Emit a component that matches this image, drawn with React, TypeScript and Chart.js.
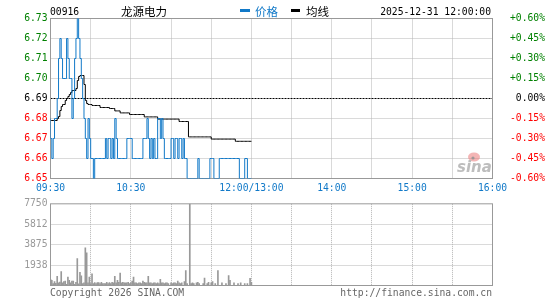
import React, { useEffect, useRef } from "react";
import { Chart, registerables } from "chart.js";

Chart.register(...registerables);

// ---------------- data ----------------
const stockCode = "00916";
const stockName = "龙源电力";
const legendPrice = "价格";
const legendAvg = "均线";
const dateTime = "2025-12-31 12:00:00";
const copyrightText = "Copyright 2026 SINA.COM";
const urlText = "http://finance.sina.com.cn";
const watermarkText = "sina";

const prevClose = 6.69;
const totalMinutes = 330;

const timeLabelMinutes = [0, 60, 150, 210, 270, 330];
const timeLabels = ["09:30", "10:30", "12:00/13:00", "14:00", "15:00", "16:00"];
const gridMinutes = [30, 60, 90, 120, 150, 180, 210, 240, 270, 300];

const priceTicks = [6.65, 6.66, 6.67, 6.68, 6.69, 6.70, 6.71, 6.72, 6.73];
const priceTickLabels = ["6.65", "6.66", "6.67", "6.68", "6.69", "6.70", "6.71", "6.72", "6.73"];
const pctTicks = [-0.6, -0.45, -0.3, -0.15, 0, 0.15, 0.3, 0.45, 0.6];
const pctTickLabels = ["-0.60%", "-0.45%", "-0.30%", "-0.15%", "0.00%", "+0.15%", "+0.30%", "+0.45%", "+0.60%"];

const volTicks = [0, 1937.5, 3875, 5812.5, 7750];
const volTickLabels = ["", "1938", "3875", "5812", "7750"];

// one value per minute, 09:30 .. 12:00
const prices = [
  6.68, 6.67, 6.66, 6.67, 6.68, 6.68, 6.69, 6.71, 6.72, 6.71,
  6.70, 6.70, 6.70, 6.72, 6.71, 6.70, 6.70, 6.68, 6.69, 6.71,
  6.72, 6.73, 6.72, 6.71, 6.70, 6.69, 6.68, 6.67, 6.66, 6.68,
  6.67, 6.66, 6.66, 6.65, 6.66, 6.66, 6.66, 6.66, 6.66, 6.66,
  6.66, 6.66, 6.67, 6.66, 6.67, 6.67, 6.66, 6.67, 6.66, 6.68,
  6.67, 6.66, 6.66, 6.66, 6.66, 6.66, 6.66, 6.66, 6.67, 6.67,
  6.67, 6.67, 6.66, 6.66, 6.66, 6.66, 6.66, 6.66, 6.66, 6.66,
  6.67, 6.67, 6.67, 6.68, 6.67, 6.66, 6.67, 6.66, 6.67, 6.66,
  6.66, 6.68, 6.68, 6.67, 6.68, 6.67, 6.66, 6.66, 6.66, 6.66,
  6.66, 6.67, 6.67, 6.66, 6.67, 6.67, 6.66, 6.67, 6.67, 6.66,
  6.67, 6.66, 6.66, 6.65, 6.65, 6.65, 6.65, 6.65, 6.65, 6.65,
  6.65, 6.66, 6.65, 6.65, 6.65, 6.65, 6.65, 6.65, 6.65, 6.65,
  6.66, 6.66, 6.66, 6.65, 6.65, 6.65, 6.65, 6.66, 6.66, 6.66,
  6.66, 6.66, 6.66, 6.66, 6.66, 6.66, 6.66, 6.66, 6.66, 6.66,
  6.66, 6.66, 6.65, 6.65, 6.65, 6.65, 6.66, 6.66, 6.65, 6.65,
  6.65,
];

const avgPrices = [
  6.679, 6.679, 6.679, 6.679, 6.679, 6.679, 6.680, 6.681, 6.684, 6.686,
  6.687, 6.687, 6.689, 6.690, 6.691, 6.692, 6.693, 6.694, 6.694, 6.694,
  6.695, 6.699, 6.701, 6.7015, 6.7015, 6.7015, 6.697, 6.689, 6.6875, 6.687,
  6.687, 6.687, 6.6865, 6.6865, 6.6865, 6.6865, 6.6865, 6.6865, 6.6855, 6.6855,
  6.6855, 6.6855, 6.6855, 6.6855, 6.6855, 6.685, 6.685, 6.685, 6.685, 6.6838,
  6.6838, 6.6838, 6.6838, 6.6828, 6.6828, 6.6828, 6.6828, 6.6828, 6.6828, 6.6828,
  6.682, 6.682, 6.682, 6.682, 6.682, 6.682, 6.682, 6.682, 6.682, 6.682,
  6.682, 6.6808, 6.6808, 6.6808, 6.6808, 6.6808, 6.6808, 6.6808, 6.6808, 6.6808,
  6.6808, 6.6797, 6.6797, 6.6797, 6.6797, 6.6797, 6.6797, 6.6797, 6.6797, 6.6797,
  6.6797, 6.6797, 6.6797, 6.6797, 6.6797, 6.6797, 6.6797, 6.6785, 6.6785, 6.6785,
  6.6785, 6.6785, 6.6785, 6.6785, 6.6708, 6.6708, 6.6708, 6.6708, 6.6708, 6.6708,
  6.6708, 6.6708, 6.6708, 6.6708, 6.6708, 6.6708, 6.6708, 6.6708, 6.6708, 6.6708,
  6.6708, 6.6697, 6.6697, 6.6697, 6.6697, 6.6697, 6.6697, 6.6697, 6.6697, 6.6697,
  6.6697, 6.6697, 6.6697, 6.6697, 6.6697, 6.6697, 6.6697, 6.6697, 6.6697, 6.6686,
  6.6686, 6.6686, 6.6686, 6.6686, 6.6686, 6.6686, 6.6686, 6.6686, 6.6686, 6.6686,
  6.6686,
];

const volumes = [
  580, 490, 180, 370, 200, 860, 250, 320, 1320, 250,
  370, 430, 110, 800, 490, 250, 430, 430, 110, 310,
  2560, 150, 1260, 920, 180, 250, 3570, 3110, 250, 800,
  180, 1100, 180, 280, 180, 280, 280, 180, 310, 180,
  180, 180, 310, 180, 280, 180, 310, 250, 860, 250,
  490, 310, 1170, 250, 310, 250, 250, 250, 310, 180,
  250, 430, 800, 250, 250, 180, 250, 250, 180, 430,
  310, 250, 250, 860, 250, 250, 180, 250, 250, 180,
  250, 180, 590, 250, 250, 180, 250, 250, 180, 0,
  250, 180, 250, 250, 180, 430, 250, 180, 250, 0,
  370, 1420, 180, 0, 7750, 180, 250, 180, 0, 250,
  310, 180, 0, 0, 180, 710, 0, 180, 310, 0,
  250, 370, 0, 180, 0, 1420, 0, 0, 250, 0,
  0, 180, 0, 950, 490, 0, 0, 250, 0, 0,
  180, 0, 250, 0, 0, 180, 0, 180, 0, 680,
  310,
];

// ---------------- styles ----------------
const BLUE = "#1179c8";
const GREEN = "#008000";
const RED = "#ff0000";
const GRID = "#b4b4b4";
const FRAME = "#999999";
const MONO = '"DejaVu Sans Mono", monospace';
const CJK = '"Noto Sans CJK SC", sans-serif';
const MONO_FONT = { family: '"DejaVu Sans Mono", monospace', size: 9.7 };

function drawFrameAndGrid(chart: any, yScaleId: string, yGridValues: number[], dashed?: number) {
  const { ctx, chartArea } = chart;
  const xs = chart.scales.x;
  const ys = chart.scales[yScaleId];
  ctx.save();
  ctx.lineWidth = 1;
  ctx.strokeStyle = GRID;
  ctx.setLineDash([1, 1]);
  gridMinutes.forEach((m) => {
    const px = Math.round(xs.getPixelForValue(m) - 0.5) + 0.5;
    ctx.beginPath();
    ctx.moveTo(px, chartArea.top);
    ctx.lineTo(px, chartArea.bottom);
    ctx.stroke();
  });
  yGridValues.forEach((v) => {
    if (dashed !== undefined && Math.abs(v - dashed) < 1e-9) return;
    const py = Math.round(ys.getPixelForValue(v) - 0.5) + 0.5;
    ctx.beginPath();
    ctx.moveTo(chartArea.left, py);
    ctx.lineTo(chartArea.right, py);
    ctx.stroke();
  });
  if (dashed !== undefined) {
    const py = Math.round(ys.getPixelForValue(dashed) - 0.5) + 0.5;
    ctx.strokeStyle = "#000";
    ctx.setLineDash([2, 1]);
    ctx.beginPath();
    ctx.moveTo(chartArea.left, py);
    ctx.lineTo(chartArea.right, py);
    ctx.stroke();
  }
  ctx.setLineDash([]);
  ctx.strokeStyle = FRAME;
  ctx.strokeRect(chartArea.left, chartArea.top, chartArea.right - chartArea.left, chartArea.bottom - chartArea.top);
  ctx.restore();
}

const mainPlugin = {
  id: "mainDecor",
  beforeDatasetsDraw(chart: any) {
    drawFrameAndGrid(chart, "y", priceTicks.slice(1, -1), prevClose);
    const { ctx } = chart;
    ctx.save();
    // sina watermark
    ctx.fillStyle = "rgba(235,120,120,0.55)";
    ctx.beginPath();
    ctx.ellipse(474, 157, 6, 4.5, 0, 0, Math.PI * 2);
    ctx.fill();
    ctx.fillStyle = "rgba(150,150,150,0.9)";
    ctx.beginPath();
    ctx.arc(473, 158, 1.6, 0, Math.PI * 2);
    ctx.fill();
    ctx.fillStyle = "#bdbdbd";
    ctx.font = `italic bold 15px "DejaVu Sans", sans-serif`;
    ctx.textAlign = "left";
    ctx.textBaseline = "alphabetic";
    ctx.fillText(watermarkText, 457, 172);
    ctx.restore();
  },
  afterDraw(chart: any) {
    const { ctx } = chart;
    ctx.save();
    ctx.textBaseline = "middle";
    ctx.fillStyle = "#000";
    ctx.font = `9.7px ${MONO}`;
    ctx.textAlign = "left";
    ctx.fillText(stockCode, 50, 12);
    ctx.font = `11.5px ${CJK}`;
    ctx.textAlign = "center";
    ctx.fillText(stockName, 144, 11.5);
    ctx.fillStyle = BLUE;
    ctx.fillRect(240, 9, 10, 3);
    ctx.textAlign = "left";
    ctx.fillText(legendPrice, 255, 11.5);
    ctx.fillStyle = "#000";
    ctx.fillRect(291, 9, 9, 3);
    ctx.fillText(legendAvg, 306, 11.5);
    ctx.font = `9.7px ${MONO}`;
    ctx.textAlign = "right";
    ctx.fillText(dateTime, 491, 12);
    ctx.restore();
  },
};

const volPlugin = {
  id: "volDecor",
  beforeDatasetsDraw(chart: any) {
    drawFrameAndGrid(chart, "y", volTicks.slice(1, -1));
  },
  afterDraw(chart: any) {
    const { ctx } = chart;
    ctx.save();
    ctx.textBaseline = "middle";
    ctx.fillStyle = "#666";
    ctx.font = `9.7px ${MONO}`;
    ctx.textAlign = "left";
    ctx.fillText(copyrightText, 50, 98);
    ctx.textAlign = "right";
    ctx.fillText(urlText, 492, 98);
    ctx.restore();
  },
};

function colorForSign(v: number) {
  if (v > 1e-9) return GREEN;
  if (v < -1e-9) return RED;
  return "#000";
}

export default function App() {
  const mainRef = useRef<HTMLCanvasElement>(null);
  const volRef = useRef<HTMLCanvasElement>(null);

  useEffect(() => {
    const mainChart = new Chart(mainRef.current as HTMLCanvasElement, {
      type: "line",
      data: {
        datasets: [
          {
            label: legendPrice,
            data: prices.map((v, i) => ({ x: i, y: v })),
            borderColor: BLUE,
            borderWidth: 1,
            pointRadius: 0,
            stepped: "after",
            yAxisID: "y",
          },
          {
            label: legendAvg,
            data: avgPrices.map((v, i) => ({ x: i, y: v })),
            borderColor: "#000",
            borderWidth: 1,
            pointRadius: 0,
            stepped: "after",
            yAxisID: "y",
          },
        ],
      },
      plugins: [mainPlugin],
      options: {
        animation: false,
        responsive: false,
        devicePixelRatio: 1,
        events: [],
        layout: { padding: { top: 18.5, left: 0, right: 0, bottom: 0 } },
        plugins: { legend: { display: false }, tooltip: { enabled: false } },
        scales: {
          x: {
            type: "linear",
            min: 0,
            max: totalMinutes,
            grid: { display: false, drawTicks: false },
            border: { display: false },
            afterBuildTicks: (s: any) => {
              s.ticks = timeLabelMinutes.map((v) => ({ value: v }));
            },
            afterFit: (s: any) => {
              s.height = 16.5;
            },
            ticks: {
              autoSkip: false,
              maxRotation: 0,
              padding: 4,
              color: BLUE,
              font: MONO_FONT,
              callback: (v: any) => {
                const k = timeLabelMinutes.indexOf(Number(v));
                return k >= 0 ? timeLabels[k] : "";
              },
            },
          },
          y: {
            position: "left",
            min: priceTicks[0],
            max: priceTicks[priceTicks.length - 1],
            grid: { display: false, drawTicks: false },
            border: { display: false },
            afterBuildTicks: (s: any) => {
              s.ticks = priceTicks.map((v) => ({ value: v }));
            },
            afterFit: (s: any) => {
              s.width = 50.5;
            },
            ticks: {
              padding: 3,
              font: MONO_FONT,
              color: (c: any) => colorForSign(c.tick.value - prevClose),
              callback: (_v: any, i: number) => priceTickLabels[i],
            },
          },
          y2: {
            position: "right",
            min: pctTicks[0],
            max: pctTicks[pctTicks.length - 1],
            grid: { display: false, drawTicks: false },
            border: { display: false },
            afterBuildTicks: (s: any) => {
              s.ticks = pctTicks.map((v) => ({ value: v }));
            },
            afterFit: (s: any) => {
              s.width = 52.5;
            },
            ticks: {
              padding: 3,
              crossAlign: "far",
              font: MONO_FONT,
              color: (c: any) => colorForSign(c.tick.value),
              callback: (_v: any, i: number) => pctTickLabels[i],
            },
          },
        },
      },
    } as any);

    const volChart = new Chart(volRef.current as HTMLCanvasElement, {
      type: "bar",
      data: {
        datasets: [
          {
            data: volumes.map((v, i) => ({ x: i, y: v })),
            backgroundColor: "#999999",
            borderWidth: 0,
            barThickness: 1,
            yAxisID: "y",
          },
        ],
      },
      plugins: [volPlugin],
      options: {
        animation: false,
        responsive: false,
        devicePixelRatio: 1,
        events: [],
        layout: { padding: { top: 6.5, left: 0, right: 52.5, bottom: 14.5 } },
        plugins: { legend: { display: false }, tooltip: { enabled: false } },
        scales: {
          x: {
            type: "linear",
            min: 0,
            max: totalMinutes,
            offset: false,
            display: false,
          },
          y: {
            position: "left",
            min: 0,
            max: volTicks[volTicks.length - 1],
            grid: { display: false, drawTicks: false },
            border: { display: false },
            afterBuildTicks: (s: any) => {
              s.ticks = volTicks.map((v) => ({ value: v }));
            },
            afterFit: (s: any) => {
              s.width = 50.5;
            },
            ticks: {
              padding: 3,
              font: MONO_FONT,
              color: "#999999",
              callback: (_v: any, i: number) => volTickLabels[i],
            },
          },
        },
      },
    } as any);

    return () => {
      mainChart.destroy();
      volChart.destroy();
    };
  }, []);

  return (
    <div
      style={{
        position: "fixed",
        left: 0,
        top: 0,
        width: 545,
        height: 300,
        background: "#fff",
        overflow: "hidden",
      }}
    >
      <canvas
        ref={mainRef}
        width={545}
        height={195}
        style={{ position: "absolute", left: 0, top: 0, width: 545, height: 195, display: "block" }}
      />
      <canvas
        ref={volRef}
        width={545}
        height={105}
        style={{ position: "absolute", left: 0, top: 195, width: 545, height: 105, display: "block" }}
      />
    </div>
  );
}
